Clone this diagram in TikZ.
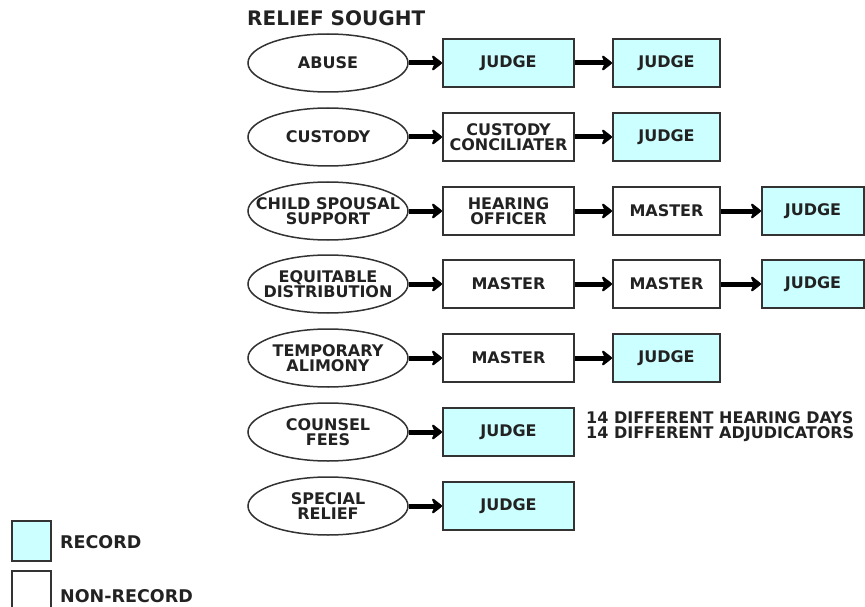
\documentclass[tikz,border=0pt]{standalone}
\usepackage{fontspec}
\setmainfont{DejaVu Sans}
\usepackage{tikz}
\usetikzlibrary{arrows.meta,shapes.geometric}
\definecolor{recfill}{RGB}{204, 255, 255}
\definecolor{ink}{RGB}{34, 34, 34}
\definecolor{rim}{RGB}{51, 51, 51}

\begin{document}
\begin{tikzpicture}[x = 1pt, y = -1pt,
    every node/.style = {font = \bfseries\fontsize{16}{15}\selectfont, text = ink, align = center},
    relief/.style = {ellipse, draw = rim, line width = 1.5pt, minimum width = 160pt, minimum height = 58pt, inner xsep = -40pt, inner ysep = 0pt},
    office/.style = {draw = rim, line width = 1.8pt, fill = white, minimum height = 48pt, inner sep = 0pt},
    record/.style = {office, fill = recfill},
    colA/.style = {minimum width = 131pt},
    colB/.style = {minimum width = 107pt},
    colC/.style = {minimum width = 102pt},
    flow/.style = {line width = 5pt, -{Stealth[length=12pt,width=19pt,inset=4pt,line width=3pt,round]}}]
			\useasboundingbox (0,0) rectangle (865,607);
			\node (title) at (247,18) [anchor = west, inner sep = 0pt, font = \bfseries\fontsize{20}{24}\selectfont] {RELIEF SOUGHT};
			% row 1
			\node (abuse) at (328,63) [relief] {ABUSE};
			\node (abuse1) at (508.5,63) [record, colA] {JUDGE};
			\node (abuse2) at (666.5,63) [record, colB] {JUDGE};
			% row 2
			\node (custody) at (328,137) [relief] {CUSTODY};
			\node (custody1) at (508.5,137) [office, colA] {CUSTODY\\CONCILIATER};
			\node (custody2) at (666.5,137) [record, colB] {JUDGE};
			% row 3
			\node (support) at (328,211) [relief] {CHILD SPOUSAL\\SUPPORT};
			\node (support1) at (508.5,211) [office, colA] {HEARING\\OFFICER};
			\node (support2) at (666.5,211) [office, colB] {MASTER};
			\node (support3) at (813,211) [record, colC] {JUDGE};
			% row 4
			\node (equit) at (328,284) [relief] {EQUITABLE\\DISTRIBUTION};
			\node (equit1) at (508.5,284) [office, colA] {MASTER};
			\node (equit2) at (666.5,284) [office, colB] {MASTER};
			\node (equit3) at (813,284) [record, colC] {JUDGE};
			% row 5
			\node (alimony) at (328,358) [relief] {TEMPORARY\\ALIMONY};
			\node (alimony1) at (508.5,358) [office, colA] {MASTER};
			\node (alimony2) at (666.5,358) [record, colB] {JUDGE};
			% row 6
			\node (fees) at (328,432) [relief] {COUNSEL\\FEES};
			\node (fees1) at (508.5,432) [record, colA] {JUDGE};
			\node (note) at (586,427) [anchor = west, inner sep = 0pt, align = left] {14 DIFFERENT HEARING DAYS\\14 DIFFERENT ADJUDICATORS};
			% row 7
			\node (special) at (328,506) [relief] {SPECIAL\\RELIEF};
			\node (special1) at (508.5,506) [record, colA] {JUDGE};
			% legend
			\node (keyrec) at (31.5,541) [record, minimum width = 39pt, minimum height = 40pt] {};
			\node (keyrectext) at (60,542) [anchor = west, inner sep = 0pt, font = \bfseries\fontsize{17.5}{20}\selectfont] {RECORD};
			\node (keynon) at (31.5,591) [office, minimum width = 39pt, minimum height = 40pt] {};
			\node (keynontext) at (60,596) [anchor = west, inner sep = 0pt, font = \bfseries\fontsize{17.5}{20}\selectfont] {NON-RECORD};
			\draw[flow] (abuse) -- (abuse1);
			\draw[flow] (abuse1) -- (abuse2);
			\draw[flow] (custody) -- (custody1);
			\draw[flow] (custody1) -- (custody2);
			\draw[flow] (support) -- (support1);
			\draw[flow] (support1) -- (support2);
			\draw[flow] (support2) -- (support3);
			\draw[flow] (equit) -- (equit1);
			\draw[flow] (equit1) -- (equit2);
			\draw[flow] (equit2) -- (equit3);
			\draw[flow] (alimony) -- (alimony1);
			\draw[flow] (alimony1) -- (alimony2);
			\draw[flow] (fees) -- (fees1);
			\draw[flow] (special) -- (special1);
\end{tikzpicture}
\end{document}
